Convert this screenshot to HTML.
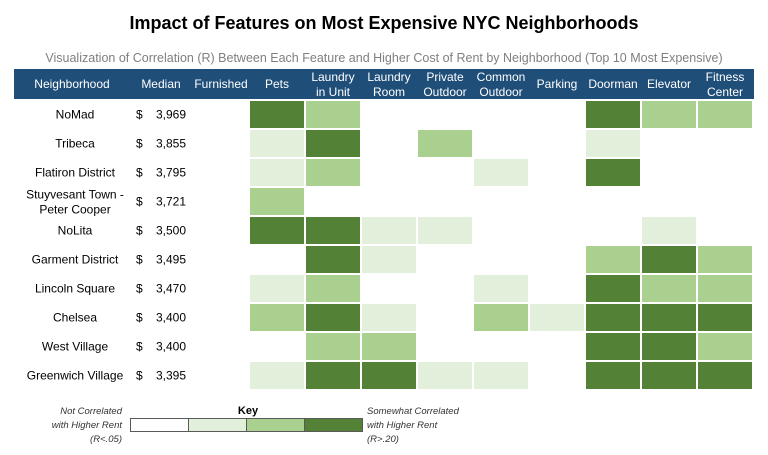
<!DOCTYPE html>
<html><head><meta charset="utf-8"><style>
body{margin:0;background:#fff;font-family:"Liberation Sans",Arial,sans-serif;}
#wrap{position:relative;width:768px;height:455px;overflow:hidden;}
.t{position:absolute;white-space:nowrap;}
</style></head><body>
<div id="wrap">
<div class="t" style="left:0;width:768px;top:13px;text-align:center;font-size:18px;font-weight:bold;color:#000;">Impact of Features on Most Expensive NYC Neighborhoods</div>
<div class="t" style="left:0;width:768px;top:51px;text-align:center;font-size:12.5px;color:#7f7f7f;">Visualization of Correlation (R) Between Each Feature and Higher Cost of Rent by Neighborhood (Top 10 Most Expensive)</div>
<svg id="svg" width="768" height="455" style="position:absolute;left:0;top:0"></svg>
</div>
<script>
const neighborhoods=["NoMad","Tribeca","Flatiron District","Stuyvesant Town -|Peter Cooper","NoLita","Garment District","Lincoln Square","Chelsea","West Village","Greenwich Village"];
const medians=["3,969","3,855","3,795","3,721","3,500","3,495","3,470","3,400","3,400","3,395"];
const features=["Furnished","Pets","Laundry|in Unit","Laundry|Room","Private|Outdoor","Common|Outdoor","Parking","Doorman","Elevator","Fitness|Center"];
const levels=[
[0,3,2,0,0,0,0,3,2,2],
[0,1,3,0,2,0,0,1,0,0],
[0,1,2,0,0,1,0,3,0,0],
[0,2,0,0,0,0,0,0,0,0],
[0,3,3,1,1,0,0,0,1,0],
[0,0,3,1,0,0,0,2,3,2],
[0,1,2,0,0,1,0,3,2,2],
[0,2,3,1,0,2,1,3,3,3],
[0,0,2,2,0,0,0,3,3,2],
[0,1,3,3,1,1,0,3,3,3]];
const colors=["#ffffff","#e2efda","#a9d08e","#538135"];
const NS="http://www.w3.org/2000/svg";
const svg=document.getElementById('svg');
function mk(tag,attrs,parent){const e=document.createElementNS(NS,tag);for(const k in attrs)e.setAttribute(k,attrs[k]);(parent||svg).appendChild(e);return e;}
function txt(x,y,s,opts,name){const e=mk('text',Object.assign({x:x,y:y,'font-family':'Liberation Sans, Arial, sans-serif','font-size':12,fill:'#000'},opts||{}));e.textContent=s;


return e;}
const colX=i=>193+i*56, colW=56;
const rowY=r=>100+r*29, rowH=29;
const hb=mk('rect',{x:14,y:69,width:740,height:30,fill:'#1f4e79'});


txt(72,88,"Neighborhood",{fill:'#fff','text-anchor':'middle'},'header-neighborhood');
txt(161,88,"Median",{fill:'#fff','text-anchor':'middle'},'header-median');
features.forEach((f,i)=>{const cx=colX(i)+colW/2;const p=f.split('|');
if(p.length===1)txt(cx,88,p[0],{fill:'#fff','text-anchor':'middle'},'header-'+p[0].toLowerCase());
else{txt(cx,81,p[0],{fill:'#fff','text-anchor':'middle'},'header-'+f.replace('|','-').toLowerCase());txt(cx,96,p[1],{fill:'#fff','text-anchor':'middle'},'header-'+f.replace('|','-').toLowerCase()+'-2');}
});
neighborhoods.forEach((n,r)=>{const cy=rowY(r)+rowH/2;const p=n.split('|');
if(p.length===1)txt(75,cy+4,p[0],{'text-anchor':'middle'},'row-label');
else{txt(75,cy-3,p[0],{'text-anchor':'middle'},'row-label');txt(75,cy+12,p[1],{'text-anchor':'middle'},'row-label');}
txt(136,cy+4,"$",{},'median-currency');
txt(186,cy+4,medians[r],{'text-anchor':'end'},'median-value');
levels[r].forEach((v,c)=>{if(v===0)return;
const rc=mk('rect',{x:colX(c)+1,y:rowY(r)+1,width:colW-2,height:rowH-2,fill:colors[v]});


});
});
txt(248,414,"Key",{'text-anchor':'middle','font-weight':'bold','font-size':11},'key-title');
colors.forEach((c,i)=>{const rc=mk('rect',{x:130.5+i*58,y:418.5,width:58,height:13,fill:c,stroke:'#595959','stroke-width':1});

});
const it={'font-style':'italic','font-size':9.5,fill:'#333'};
txt(122,414,"Not Correlated",Object.assign({'text-anchor':'end'},it),'key-low-label');
txt(122,428,"with Higher Rent",Object.assign({'text-anchor':'end'},it),'key-low-label');
txt(122,442,"(R<.05)",Object.assign({'text-anchor':'end'},it),'key-low-label');
txt(367,414,"Somewhat Correlated",it,'key-high-label');
txt(367,428,"with Higher Rent",it,'key-high-label');
txt(367,442,"(R>.20)",it,'key-high-label');
</script>
</body></html>
